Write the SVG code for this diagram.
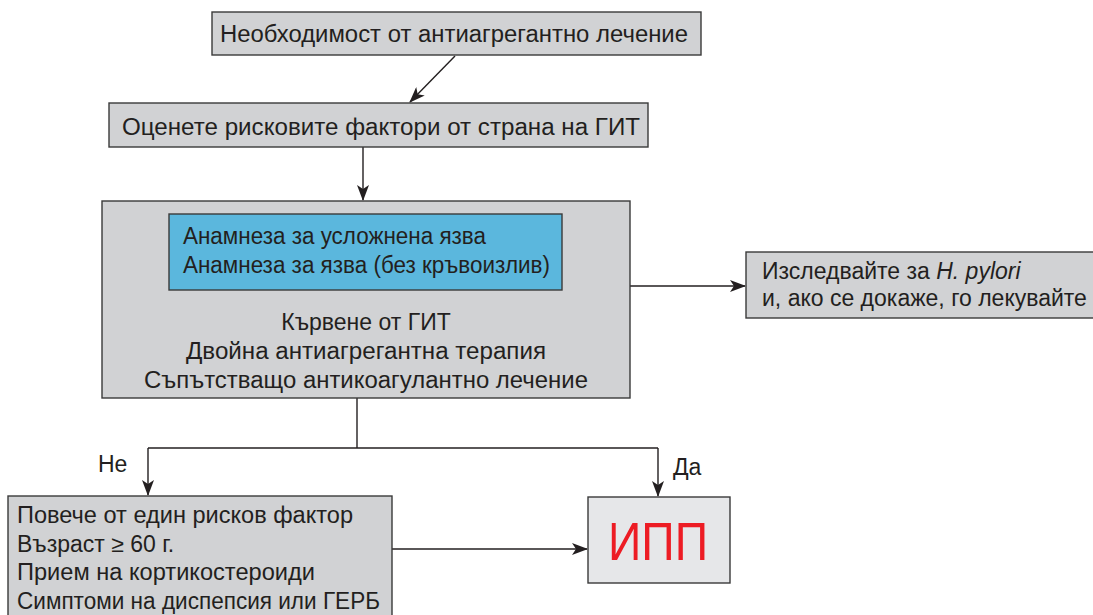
<svg xmlns="http://www.w3.org/2000/svg" width="1093" height="615" viewBox="0 0 1093 615">
<style>
.box{fill:#d1d2d4;stroke:#3a3a3a;stroke-width:1.4}
.blue{fill:#5bb7dd;stroke:#3a3a3a;stroke-width:1.4}
.light{fill:#e6e7e9;stroke:#3a3a3a;stroke-width:1.4}
.t{font-family:"Liberation Sans",Arial,sans-serif;font-size:23px;fill:#231f20}
.m{text-anchor:middle}
.red{font-family:"Liberation Sans",Arial,sans-serif;font-size:53px;fill:#ed1c24;text-anchor:middle}
.c{fill:none;stroke:#231f20;stroke-width:1.4}
</style>
<defs>
<marker id="ah" viewBox="0 0 16 12" refX="15" refY="6" markerWidth="16" markerHeight="12" markerUnits="userSpaceOnUse" orient="auto">
<path d="M0,0 L16,6 L0,12 L4,6 z" fill="#231f20"/>
</marker>
</defs>
<rect width="1093" height="615" fill="#ffffff"/>
<g id="connectors">
<line class="c" x1="455" y1="56" x2="410" y2="102" marker-end="url(#ah)"/>
<line class="c" x1="363" y1="147" x2="363" y2="200" marker-end="url(#ah)"/>
<line class="c" x1="582" y1="286" x2="745" y2="286" marker-end="url(#ah)"/>
<polyline class="c" points="357,398 357,448"/>
<polyline class="c" points="148,448 658,448"/>
<line class="c" x1="148" y1="448" x2="148" y2="495" marker-end="url(#ah)"/>
<line class="c" x1="658" y1="448" x2="658" y2="496" marker-end="url(#ah)"/>
<line class="c" x1="392" y1="549" x2="587" y2="549" marker-end="url(#ah)"/>
<text class="t" x="98" y="472" font-size="22">Не</text>
<text class="t" x="673" y="475" font-size="22">Да</text>
</g>
<g id="n1">
<rect class="box" x="212" y="12" width="489" height="43"/>
<text class="t" x="220" y="42" textLength="468" lengthAdjust="spacingAndGlyphs">Необходимост от антиагрегантно лечение</text>
</g>
<g id="n2">
<rect class="box" x="109" y="103" width="539" height="44"/>
<text class="t" x="122" y="135" textLength="518" lengthAdjust="spacingAndGlyphs">Оценете рисковите фактори от страна на ГИТ</text>
</g>
<g id="n3">
<rect class="box" x="102" y="201" width="528" height="197"/>
<rect class="blue" x="169" y="214" width="393" height="76"/>
<text class="t" x="183" y="244" textLength="303" lengthAdjust="spacingAndGlyphs">Анамнеза за усложнена язва</text>
<text class="t" x="183" y="273" textLength="367" lengthAdjust="spacingAndGlyphs">Анамнеза за язва (без кръвоизлив)</text>
<text class="t m" x="366" y="330">Кървене от ГИТ</text>
<text class="t m" x="366" y="359" textLength="360" lengthAdjust="spacingAndGlyphs">Двойна антиагрегантна терапия</text>
<text class="t m" x="366" y="388" textLength="444" lengthAdjust="spacingAndGlyphs">Съпътстващо антикоагулантно лечение</text>
</g>
<g id="n4">
<rect class="box" x="746" y="252" width="352" height="66"/>
<text class="t" x="762" y="279">Изследвайте за <tspan font-style="italic">H. pylori</tspan></text>
<text class="t" x="762" y="306">и, ако се докаже, го лекувайте</text>
</g>
<g id="n5">
<rect class="box" x="8" y="496" width="384" height="125"/>
<text class="t" x="17" y="523" textLength="336" lengthAdjust="spacingAndGlyphs">Повече от един рисков фактор</text>
<text class="t" x="17" y="552">Възраст ≥ 60 г.</text>
<text class="t" x="17" y="580" textLength="298" lengthAdjust="spacingAndGlyphs">Прием на кортикостероиди</text>
<text class="t" x="17" y="609" textLength="363" lengthAdjust="spacingAndGlyphs">Симптоми на диспепсия или ГЕРБ</text>
</g>
<g id="n6">
<rect class="light" x="588" y="497" width="142" height="86"/>
<text class="red" x="658" y="560" textLength="100" lengthAdjust="spacingAndGlyphs">ИПП</text>
</g>
</svg>
